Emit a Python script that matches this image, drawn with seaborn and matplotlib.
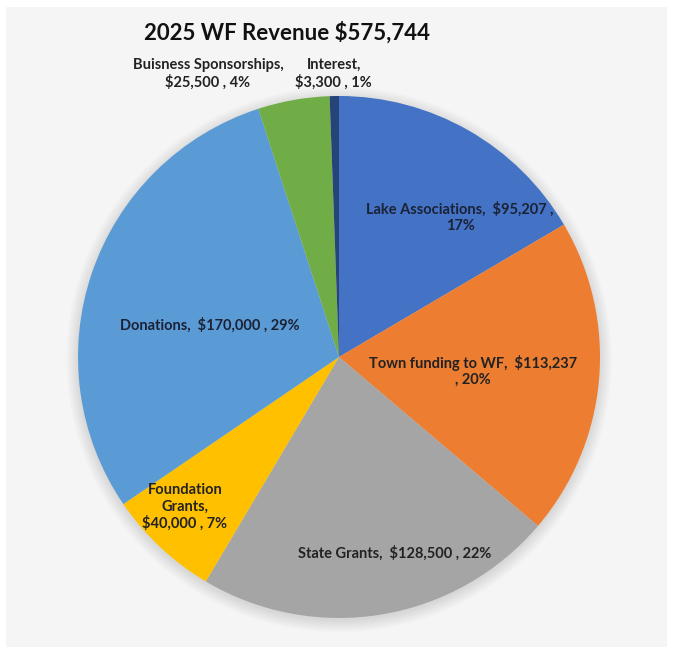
import numpy as np
import pandas as pd
import seaborn as sns
import matplotlib.pyplot as plt
from matplotlib.patches import Rectangle, Circle

# Data
categories = ["Lake Associations", "Town funding to WF", "State Grants",
              "Foundation Grants", "Donations", "Buisness Sponsorships", "Interest"]
amounts = [95207, 113237, 128500, 40000, 170000, 25500, 3300]
percents = [17, 20, 22, 7, 29, 4, 1]  # as shown on the chart
colors = ["#4472C4", "#ED7D31", "#A5A5A5", "#FFC000", "#5B9BD5", "#70AD47", "#264478"]

df = pd.DataFrame({"category": categories, "amount": amounts, "pct": percents})
total = df["amount"].sum()

# label text layout (how Excel wrapped them) and positions in pie units
label_fmt = ["{c},  {a} ,\n{p}%", "{c},  {a}\n, {p}%", "{c},  {a} , {p}%",
             "Foundation\nGrants,\n{a} , {p}%", "{c},  {a} , {p}%",
             "{c},\n{a} , {p}%", "{c},\n{a} , {p}%"]
label_pos = [(0.464, 0.536), (0.513, -0.054), (0.215, -0.751), (-0.590, -0.575),
             (-0.494, 0.123), (-0.502, 1.084), (-0.020, 1.084)]

sns.set_theme(style="white")
plt.rcParams["font.family"] = ["Lato", "DejaVu Sans"]

fig = plt.figure(figsize=(6.73, 6.54), dpi=100)
fig.patch.set_facecolor("white")
fig.patches.append(Rectangle((6 / 673, 7 / 654), 661 / 673, 640 / 654,
                             transform=fig.transFigure, facecolor="#f5f5f5",
                             edgecolor="none", zorder=-10))

R = 261
ax = fig.add_axes([(339 - R) / 673, (654 - 357 - R) / 654, 2 * R / 673, 2 * R / 654])
ax.set_facecolor("none")

# soft shadow
for k in range(10):
    ax.add_patch(Circle((0.0, -0.01), 1.0 + 0.005 * k, facecolor="black",
                        alpha=0.012, edgecolor="none", zorder=0, clip_on=False))

wedges, _ = ax.pie(df["amount"], colors=colors, startangle=90, counterclock=False,
                   wedgeprops=dict(linewidth=0), radius=1.0)
for w in wedges:
    w.set_zorder(2)
    w.set_clip_on(False)

for i, row in df.iterrows():
    txt = label_fmt[i].format(c=row["category"], a=f"${row['amount']:,}", p=row["pct"])
    x, y = label_pos[i]
    color = "#1b2236" if i in (0, 4) else "#222222"
    ax.text(x, y, txt, ha="center", va="center", fontsize=10.5, fontweight="bold",
            color=color, linespacing=1.2, zorder=5, clip_on=False)

ax.text(-0.199, 1.245, f"2025 WF Revenue ${total:,}", ha="center", va="center",
        fontsize=16, fontweight="bold", color="#111111", zorder=5, clip_on=False)

ax.set_xlim(-1, 1)
ax.set_ylim(-1, 1)
ax.set_aspect("auto")
ax.axis("off")

fig.savefig("out.png", dpi=100, facecolor=fig.get_facecolor())
